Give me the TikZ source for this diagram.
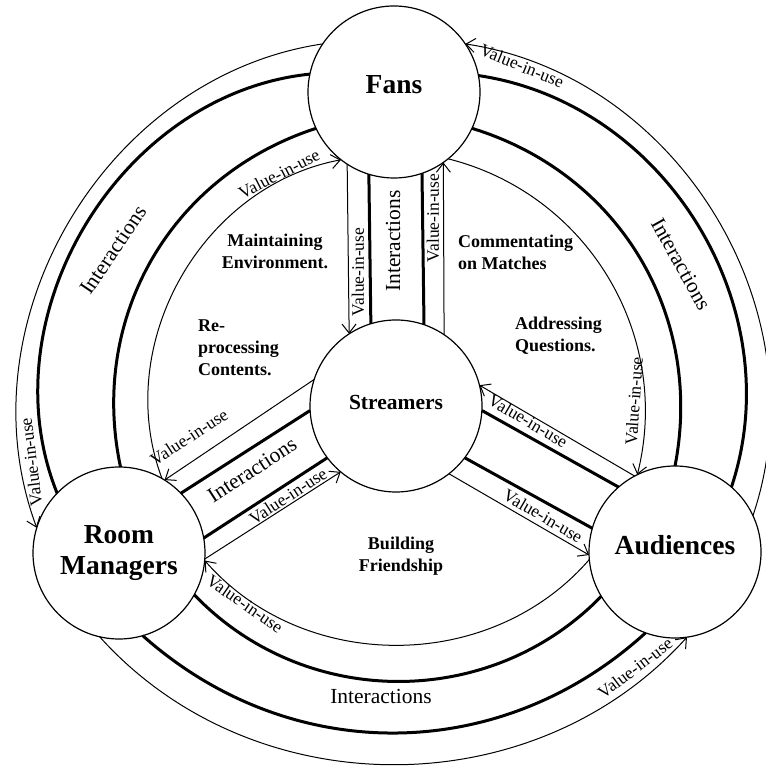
\documentclass[tikz,border=0pt]{standalone}
\usepackage{fontspec}
\setmainfont{Liberation Serif}
\usetikzlibrary{arrows.meta}
\begin{document}
\begin{tikzpicture}[x=1pt,y=1pt,
  actor/.style={circle, draw, line width=1.2pt, fill=white, minimum size=172pt, inner sep=0pt, outer sep=0pt, font=\bfseries\fontsize{27.5}{31}\selectfont, align=center},
  thinln/.style={line width=1pt},
  thickln/.style={line width=3pt},
  arr/.style={-{Straight Barb[length=9pt,width=14pt]}},
  rarr/.style={{Straight Barb[length=9pt,width=14pt]}-},
  vlab/.style={font=\fontsize{17.5}{20}\selectfont, inner sep=0pt},
  ilab/.style={font=\fontsize{21.5}{24}\selectfont, inner sep=0pt},
  rlab/.style={font=\bfseries\fontsize{18}{22}\selectfont, inner sep=0pt}]
\useasboundingbox (0,0) rectangle (765,767);
\node[actor] (F) at (394,675) {\raisebox{14pt}{Fans}};
\node[actor, font=\bfseries\fontsize{21.5}{24}\selectfont] (S) at (396,361) {\raisebox{8pt}{Streamers}};
\node[actor] (R) at (119,214) {Room\\Managers};
\node[actor] (A) at (675,215) {\raisebox{14pt}{Audiences}};

% straight bands
\draw[thinln, arr] (F.237.7) -- (S.123.9);
\draw[thickln] (F.253.8) -- (S.107.6);
\draw[thickln] (F.289.7) -- (S.71.7);
\draw[thinln, arr] (S.56.1) -- (F.305.6);

\draw[thinln, arr] (S.162) -- (R.58.5);
\draw[thickln] (S.183.9) -- (R.44.1);
\draw[thickln] (S.217.3) -- (R.10.5);
\draw[thinln, arr] (R.356.7) -- (S.230.1);

\draw[thinln, arr] (A.118) -- (S.14.8);
\draw[thickln] (S.357.4) -- (A.131.3);
\draw[thickln] (S.323.8) -- (A.164.2);
\draw[thinln, arr] (S.308.9) -- (A.182);

% left ring
\draw[thinln, arr] (F.146) to[bend right=51] (R.163);
\draw[thickln] (F.168) to[bend right=53] (R.136);
\draw[thickln] (F.205) to[bend right=42] (R.89);
\draw[thinln, rarr] (F.232) to[bend right=50] (R.60);
% right ring
\draw[thinln, rarr] (F.34) to[bend left=50] (A.25);
\draw[thickln] (F.11) to[bend left=50] (A.49);
\draw[thickln] (F.335) to[bend left=42] (A.90);
\draw[thinln, arr] (F.309) to[bend left=45] (A.116);
% bottom ring
\draw[thinln, arr] (R.257) to[bend right=48] (A.278);
\draw[thickln] (R.286) to[bend right=42] (A.250);
\draw[thickln] (R.331) to[bend right=46] (A.211);
\draw[thinln, rarr] (R.355) to[bend right=49] (A.185);

% band labels
\node[vlab, rotate=90] (v1) at (358,495) {Value-in-use};
\node[ilab, rotate=90] (i1) at (393,526) {Interactions};
\node[vlab, rotate=90] (v2) at (433,549) {Value-in-use};
\node[vlab, rotate=33] (v3) at (189,330) {Value-in-use};
\node[ilab, rotate=33] (i2) at (252,297) {Interactions};
\node[vlab, rotate=33] (v4) at (288,271) {Value-in-use};
\node[vlab, rotate=-30.5] (v5) at (528,346) {Value-in-use};
\node[vlab, rotate=-30.5] (v6) at (543,251) {Value-in-use};
% ring labels
\node[vlab, rotate=97] (v7) at (31,305) {Value-in-use};
\node[ilab, rotate=56] (i3) at (113,517) {Interactions};
\node[vlab, rotate=27] (v8) at (279,593) {Value-in-use};
\node[vlab, rotate=-22] (v9) at (522,701) {Value-in-use};
\node[ilab, rotate=-61] (i4) at (681,503) {Interactions};
\node[vlab, rotate=86] (v10) at (634,366) {Value-in-use};
\node[vlab, rotate=-35] (v11) at (245,163) {Value-in-use};
\node[ilab] (i5) at (381,71) {Interactions};
\node[vlab, rotate=37] (v12) at (635,99) {Value-in-use};
% region labels
\node[rlab, align=center] (t1) at (275,516) {Maintaining\\Environment.};
\node[rlab, align=left, anchor=west] (t2) at (198,419) {Re-\\processing\\Contents.};
\node[rlab, align=left, anchor=west] (t3) at (458,515) {Commentating\\on Matches};
\node[rlab, align=left, anchor=west] (t4) at (515,431) {Addressing\\Questions.};
\node[rlab, align=center] (t5) at (401,211) {Building\\Friendship};
\end{tikzpicture}
\end{document}
